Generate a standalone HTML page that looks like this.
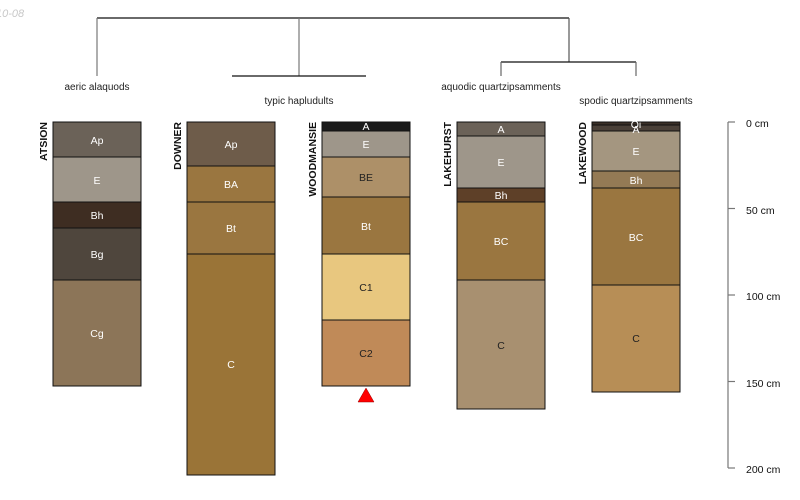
<!DOCTYPE html>
<html><head><meta charset="utf-8"><style>
body{margin:0;background:#fff;}
svg{display:block;font-family:"Liberation Sans",sans-serif;}
</style></head><body>
<svg width="800" height="500" viewBox="0 0 800 500" xmlns="http://www.w3.org/2000/svg">
<text x="-4" y="17" font-size="11" fill="#c8c8c8" font-style="italic">10-08</text>
<!-- dendrogram -->
<g stroke-width="1.2" fill="none">
<line x1="97" y1="18" x2="569" y2="18" stroke="#111"/>
<line x1="97" y1="18" x2="97" y2="76" stroke="#777"/>
<line x1="299" y1="18" x2="299" y2="76" stroke="#777"/>
<line x1="232" y1="76" x2="366" y2="76" stroke="#111"/>
<line x1="569" y1="18" x2="569" y2="62" stroke="#555"/>
<line x1="501" y1="62" x2="636" y2="62" stroke="#111"/>
<line x1="501" y1="62" x2="501" y2="76" stroke="#666"/>
<line x1="636" y1="62" x2="636" y2="76" stroke="#666"/>
</g>
<g font-size="10" fill="#222" text-anchor="middle">
<text x="97" y="90">aeric alaquods</text>
<text x="299" y="104">typic hapludults</text>
<text x="501" y="90">aquodic quartzipsamments</text>
<text x="636" y="104">spodic quartzipsamments</text>
</g>
<!-- profiles -->
<g stroke="#111" stroke-width="1" font-size="10.5" text-anchor="middle">
<!-- ATSION -->
<rect x="53" y="122" width="88" height="35" fill="#6b6258"/>
<rect x="53" y="157" width="88" height="45" fill="#9e968a"/>
<rect x="53" y="202" width="88" height="26" fill="#3e2d22"/>
<rect x="53" y="228" width="88" height="52" fill="#4f463d"/>
<rect x="53" y="280" width="88" height="106" fill="#8c7558"/>
<!-- DOWNER -->
<rect x="187" y="122" width="88" height="44" fill="#6e5c4a"/>
<rect x="187" y="166" width="88" height="36" fill="#9a7640"/>
<rect x="187" y="202" width="88" height="52" fill="#9a7640"/>
<rect x="187" y="254" width="88" height="221" fill="#9a7437"/>
<!-- WOODMANSIE -->
<rect x="322" y="122" width="88" height="9" fill="#1a1a1a"/>
<rect x="322" y="131" width="88" height="26" fill="#9e968a"/>
<rect x="322" y="157" width="88" height="40" fill="#ad9068"/>
<rect x="322" y="197" width="88" height="57" fill="#9a7640"/>
<rect x="322" y="254" width="88" height="66" fill="#e8c77f"/>
<rect x="322" y="320" width="88" height="66" fill="#c08a58"/>
<!-- LAKEHURST -->
<rect x="457" y="122" width="88" height="14" fill="#6b6258"/>
<rect x="457" y="136" width="88" height="52" fill="#9e968a"/>
<rect x="457" y="188" width="88" height="14" fill="#5e4028"/>
<rect x="457" y="202" width="88" height="78" fill="#9a7640"/>
<rect x="457" y="280" width="88" height="129" fill="#a89070"/>
<!-- LAKEWOOD -->
<rect x="592" y="122" width="88" height="3" fill="#3a3028"/>
<rect x="592" y="125" width="88" height="6" fill="#4a4038"/>
<rect x="592" y="131" width="88" height="40" fill="#a49680"/>
<rect x="592" y="171" width="88" height="17" fill="#947a55"/>
<rect x="592" y="188" width="88" height="97" fill="#9a7640"/>
<rect x="592" y="285" width="88" height="107" fill="#b78e56"/>
</g>
<g font-size="10.5" text-anchor="middle" fill="#fff">
<text x="97" y="144">Ap</text><text x="97" y="184">E</text><text x="97" y="219">Bh</text><text x="97" y="258">Bg</text><text x="97" y="337">Cg</text>
<text x="231" y="148">Ap</text><text x="231" y="188">BA</text><text x="231" y="232">Bt</text><text x="231" y="368">C</text>
<text x="366" y="130">A</text><text x="366" y="148">E</text><text x="366" y="230">Bt</text>
<text x="501" y="133">A</text><text x="501" y="166">E</text><text x="501" y="199">Bh</text><text x="501" y="245">BC</text>
<text x="636" y="128">Oi</text><text x="636" y="133">A</text><text x="636" y="155">E</text><text x="636" y="184">Bh</text><text x="636" y="241">BC</text>
</g>
<g font-size="10.5" text-anchor="middle" fill="#222">
<text x="366" y="181">BE</text><text x="366" y="291">C1</text><text x="366" y="357">C2</text>
<text x="501" y="349">C</text><text x="636" y="342">C</text>
</g>
<polygon points="366,388 374,402 358,402" fill="#f00" stroke="#900" stroke-width="0.5"/>
<!-- profile names -->
<g font-size="10.5" font-weight="bold" fill="#111" text-anchor="end">
<text transform="translate(47,122) rotate(-90)">ATSION</text>
<text transform="translate(181,122) rotate(-90)">DOWNER</text>
<text transform="translate(316,122) rotate(-90)">WOODMANSIE</text>
<text transform="translate(451,122) rotate(-90)">LAKEHURST</text>
<text transform="translate(586,122) rotate(-90)">LAKEWOOD</text>
</g>
<!-- scale -->
<g stroke="#777" stroke-width="1.2">
<line x1="728" y1="122" x2="728" y2="468"/>
<line x1="728" y1="122" x2="735" y2="122"/>
<line x1="728" y1="208.5" x2="735" y2="208.5"/>
<line x1="728" y1="295" x2="735" y2="295"/>
<line x1="728" y1="381.5" x2="735" y2="381.5"/>
<line x1="728" y1="468" x2="735" y2="468"/>
</g>
<g font-size="10.5" fill="#111">
<text x="746" y="127">0 cm</text>
<text x="746" y="214">50 cm</text>
<text x="746" y="300">100 cm</text>
<text x="746" y="387">150 cm</text>
<text x="746" y="473">200 cm</text>
</g>
</svg>
</body></html>
